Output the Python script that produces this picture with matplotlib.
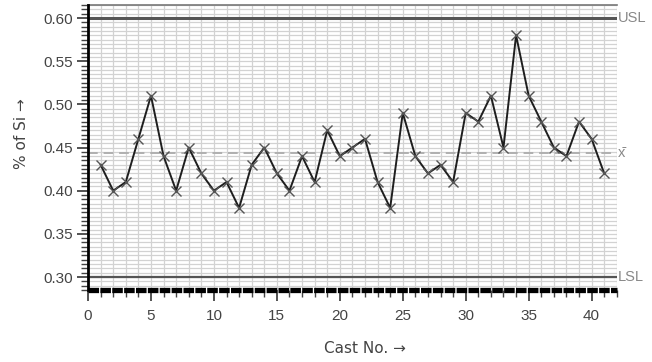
import numpy as np
import matplotlib
matplotlib.use("Agg")
import matplotlib.pyplot as plt
from matplotlib.ticker import MultipleLocator, FormatStrFormatter

plt.rcParams["font.family"] = ["Liberation Sans", "DejaVu Sans"]

# --- data ---
cast_no = list(range(1, 42))
si_pct = [0.43, 0.40, 0.41, 0.46, 0.51, 0.44, 0.40, 0.45, 0.42, 0.40,
          0.41, 0.38, 0.43, 0.45, 0.42, 0.40, 0.44, 0.41, 0.47, 0.44,
          0.45, 0.46, 0.41, 0.38, 0.49, 0.44, 0.42, 0.43, 0.41, 0.49,
          0.48, 0.51, 0.45, 0.58, 0.51, 0.48, 0.45, 0.44, 0.48, 0.46,
          0.42]
usl = 0.60
lsl = 0.30
x_bar = 0.444
limit_labels = ["USL", "x\u0304", "LSL"]

TXT = "#444444"

fig = plt.figure(figsize=(6.52, 3.62), dpi=100)
ax = fig.add_axes([0.135, 0.199, 0.811, 0.787])

ax.set_xlim(0, 42)
ax.set_ylim(0.285, 0.615)

# graph paper grid
ax.xaxis.set_major_locator(MultipleLocator(5))
ax.xaxis.set_minor_locator(MultipleLocator(1))
ax.yaxis.set_major_locator(MultipleLocator(0.05))
ax.yaxis.set_minor_locator(MultipleLocator(0.005))
ax.grid(which="both", color="#d2d2d2", linewidth=0.9)
ax.set_axisbelow(True)

# spec limits and mean
ax.axhline(usl, color="#555555", lw=2.2)
ax.axhline(lsl, color="#555555", lw=1.6)
ax.axhline(x_bar, color="#b0b0b0", lw=1.4, ls=(0, (5, 3)))
ax.plot([0, 42], [0.2855, 0.2855], color="black", lw=3.8,
        ls=(0, (2.0, 0.25)), clip_on=False, zorder=5)

ax.plot(cast_no, si_pct, color="#1e1e1e", lw=1.4, marker="x",
        markersize=6.5, markeredgewidth=1.0, markeredgecolor="#555555", zorder=4)

for val, lab in zip([usl, x_bar, lsl], limit_labels):
    ax.text(42.1, val, lab, color="#888888", fontsize=10.5, va="center",
            ha="left", clip_on=False)

for side in ["top", "right"]:
    ax.spines[side].set_visible(False)
ax.spines["left"].set_linewidth(2.0)
ax.spines["bottom"].set_visible(False)
ax.plot([0, 42], [0.615, 0.615], color="#777777", lw=1.2, clip_on=False)

ax.tick_params(which="major", direction="out", length=8, width=1.3,
               colors=TXT, labelsize=11, pad=3)
ax.tick_params(which="minor", direction="out", length=5, width=1.0, colors=TXT)
ax.tick_params(axis="x", which="major", pad=6)
ax.yaxis.set_major_formatter(FormatStrFormatter("%.2f"))

ax.set_xlabel("Cast No. \u2192", color=TXT, fontsize=11, family="DejaVu Sans")
ax.set_ylabel("% of Si \u2192", color=TXT, fontsize=11, family="DejaVu Sans")
ax.xaxis.set_label_coords(0.524, -0.18)
ax.yaxis.set_label_coords(-0.112, 0.55)

fig.savefig("out.png", dpi=100)
